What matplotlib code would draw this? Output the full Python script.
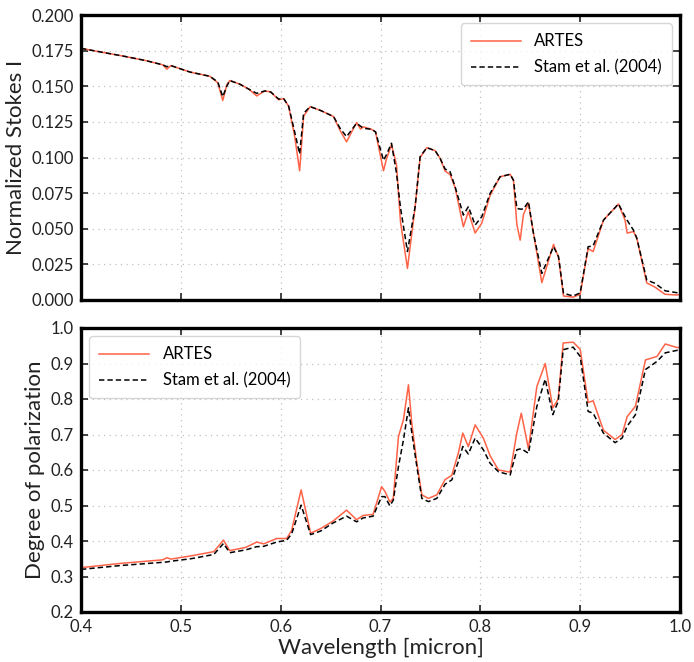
import matplotlib
matplotlib.use("Agg")
import matplotlib.pyplot as plt
import numpy as np

plt.rcParams['font.family'] = ['Lato', 'DejaVu Sans']

# ---- Top panel: normalized Stokes I ----
wl_I = [0.400, 0.420, 0.442, 0.465, 0.482, 0.486, 0.490, 0.509, 0.529, 0.537,
        0.542, 0.546, 0.549, 0.559, 0.568, 0.576, 0.584, 0.590, 0.598, 0.603,
        0.608, 0.614, 0.619, 0.623, 0.6295, 0.640, 0.653, 0.6595, 0.666, 0.676,
        0.680, 0.683, 0.691, 0.695, 0.703, 0.706, 0.711, 0.716, 0.720, 0.727,
        0.7347, 0.7397, 0.7464, 0.7547, 0.7597, 0.7647, 0.7697, 0.7747, 0.783, 0.788,
        0.7948, 0.8015, 0.8098, 0.8198, 0.8299, 0.8332, 0.8366, 0.8399, 0.8432, 0.8482,
        0.8532, 0.8616, 0.8733, 0.8783, 0.8833, 0.893, 0.900, 0.908, 0.913, 0.9234,
        0.9384, 0.945, 0.947, 0.9534, 0.9567, 0.9667, 0.975, 0.985, 0.997, 1.000]
stam_I = [0.1766, 0.1740, 0.1712, 0.1680, 0.1650, 0.1637, 0.1645, 0.1600, 0.1570, 0.1530,
          0.1427, 0.1500, 0.1540, 0.1515, 0.1480, 0.1450, 0.1467, 0.1460, 0.1410, 0.1413,
          0.1360, 0.1180, 0.1025, 0.1310, 0.1357, 0.1330, 0.1287, 0.1205, 0.1146, 0.1240,
          0.1220, 0.1205, 0.1198, 0.1180, 0.0980, 0.1020, 0.1100, 0.0890, 0.0650, 0.0340,
          0.0655, 0.1006, 0.1069, 0.1048, 0.0994, 0.0919, 0.0900, 0.0795, 0.0596, 0.0655,
          0.0526, 0.0585, 0.0749, 0.0865, 0.0882, 0.0840, 0.0643, 0.0638, 0.0638, 0.0690,
          0.0468, 0.0187, 0.0374, 0.0304, 0.0047, 0.0028, 0.0050, 0.0374, 0.0380, 0.0561,
          0.0674, 0.0585, 0.0560, 0.0490, 0.0434, 0.0140, 0.0117, 0.0065, 0.0051, 0.0050]
artes_I = [0.1766, 0.1740, 0.1712, 0.1680, 0.1650, 0.1620, 0.1645, 0.1600, 0.1570, 0.1525,
           0.1400, 0.1510, 0.1540, 0.1515, 0.1480, 0.1432, 0.1467, 0.1460, 0.1405, 0.1413,
           0.1360, 0.1150, 0.0907, 0.1290, 0.1357, 0.1330, 0.1287, 0.1190, 0.1110, 0.1245,
           0.1200, 0.1215, 0.1198, 0.1180, 0.0907, 0.0990, 0.1090, 0.0950, 0.0550, 0.0222,
           0.0655, 0.1000, 0.1069, 0.1048, 0.0994, 0.0905, 0.0880, 0.0790, 0.0514, 0.0620,
           0.0470, 0.0540, 0.0735, 0.0865, 0.0882, 0.0840, 0.0530, 0.0420, 0.0600, 0.0680,
           0.0470, 0.0122, 0.0390, 0.0300, 0.0028, 0.0020, 0.0040, 0.0360, 0.0340, 0.0561,
           0.0674, 0.0560, 0.0470, 0.0480, 0.0434, 0.0120, 0.0090, 0.0040, 0.0035, 0.0040]

# ---- Bottom panel: degree of polarization ----
wl_P = [0.400, 0.440, 0.482, 0.486, 0.490, 0.510, 0.533, 0.5427, 0.549, 0.565,
        0.576, 0.583, 0.596, 0.606, 0.611, 0.6205, 0.630, 0.640, 0.652, 0.666,
        0.676, 0.6826, 0.6926, 0.7011, 0.7044, 0.7094, 0.7128, 0.718, 0.723, 0.728,
        0.7314, 0.7364, 0.7414, 0.748, 0.7564, 0.7647, 0.7714, 0.778, 0.7824, 0.788,
        0.7948, 0.803, 0.8098, 0.8182, 0.8299, 0.8366, 0.841, 0.8482, 0.8566, 0.865,
        0.8726, 0.878, 0.883, 0.893, 0.900, 0.908, 0.913, 0.9233, 0.935, 0.942,
        0.947, 0.9554, 0.9654, 0.977, 0.9852, 0.997, 1.000]
stam_P = [0.320, 0.331, 0.340, 0.341, 0.343, 0.350, 0.362, 0.393, 0.367, 0.375,
          0.384, 0.385, 0.397, 0.402, 0.420, 0.501, 0.418, 0.428, 0.450, 0.470,
          0.454, 0.465, 0.470, 0.525, 0.525, 0.499, 0.515, 0.610, 0.685, 0.775,
          0.704, 0.610, 0.520, 0.511, 0.520, 0.560, 0.572, 0.624, 0.666, 0.645,
          0.690, 0.657, 0.619, 0.595, 0.586, 0.657, 0.660, 0.647, 0.779, 0.856,
          0.756, 0.793, 0.939, 0.946, 0.920, 0.765, 0.760, 0.704, 0.677, 0.690,
          0.723, 0.756, 0.883, 0.906, 0.930, 0.937, 0.938]
artes_P = [0.325, 0.337, 0.347, 0.353, 0.349, 0.358, 0.370, 0.4025, 0.373, 0.382,
           0.397, 0.392, 0.407, 0.407, 0.430, 0.544, 0.422, 0.435, 0.455, 0.487,
           0.460, 0.472, 0.475, 0.553, 0.540, 0.510, 0.520, 0.694, 0.742, 0.840,
           0.730, 0.620, 0.530, 0.520, 0.530, 0.573, 0.585, 0.648, 0.704, 0.666,
           0.727, 0.690, 0.640, 0.600, 0.594, 0.705, 0.760, 0.660, 0.835, 0.900,
           0.775, 0.800, 0.958, 0.960, 0.940, 0.790, 0.795, 0.712, 0.686, 0.700,
           0.750, 0.780, 0.910, 0.920, 0.955, 0.945, 0.945]

labels = ["ARTES", "Stam et al. (2004)"]
red = "#FF6347"

fig = plt.figure(figsize=(6.94, 6.62), dpi=100)
ax1 = fig.add_axes([81/694, 1-300/662, 599/694, 285/662])
ax2 = fig.add_axes([81/694, 1-612/662, 599/694, 284/662])

ax1.plot(wl_I, artes_I, color=red, lw=1.1, label=labels[0])
ax1.plot(wl_I, stam_I, color="black", lw=1.1, ls=(0, (3.5, 2)), label=labels[1])
ax2.plot(wl_P, artes_P, color=red, lw=1.1, label=labels[0])
ax2.plot(wl_P, stam_P, color="black", lw=1.1, ls=(0, (3.5, 2)), label=labels[1])

for ax in (ax1, ax2):
    ax.set_xlim(0.4, 1.0)
    ax.tick_params(direction="in", top=True, right=True, length=5, width=1.2,
                   labelsize=12, colors="#222222", pad=5)
    for s in ax.spines.values():
        s.set_linewidth(2.4)
    ax.grid(True, ls=(0, (1, 3.5)), color="#c0c0c0", lw=0.9)
    ax.set_xticks(np.arange(0.4, 1.01, 0.1))

ax1.set_ylim(0, 0.2)
ax1.set_yticks(np.arange(0, 0.2001, 0.025))
ax1.set_yticklabels([f"{v:.3f}" for v in np.arange(0, 0.2001, 0.025)])
ax1.set_xticklabels([])
ax1.set_ylabel("Normalized Stokes I", fontsize=16, color="#222222")

ax2.set_ylim(0.2, 1.0)
ax2.set_yticks(np.arange(0.2, 1.001, 0.1))
ax2.set_yticklabels([f"{v:.1f}" for v in np.arange(0.2, 1.001, 0.1)])
ax2.set_xticklabels([f"{v:.1f}" for v in np.arange(0.4, 1.01, 0.1)])
ax2.set_ylabel("Degree of polarization", fontsize=16, color="#222222")
ax2.set_xlabel("Wavelength [micron]", fontsize=16, color="#222222", labelpad=2)

ax1.legend(loc="upper right", fontsize=12, frameon=True, edgecolor="#cccccc",
           handlelength=3, borderpad=0.6, labelspacing=0.6)
ax2.legend(loc="upper left", fontsize=12, frameon=True, edgecolor="#cccccc",
           handlelength=3, borderpad=0.6, labelspacing=0.6)

fig.savefig("out.png", dpi=100)
